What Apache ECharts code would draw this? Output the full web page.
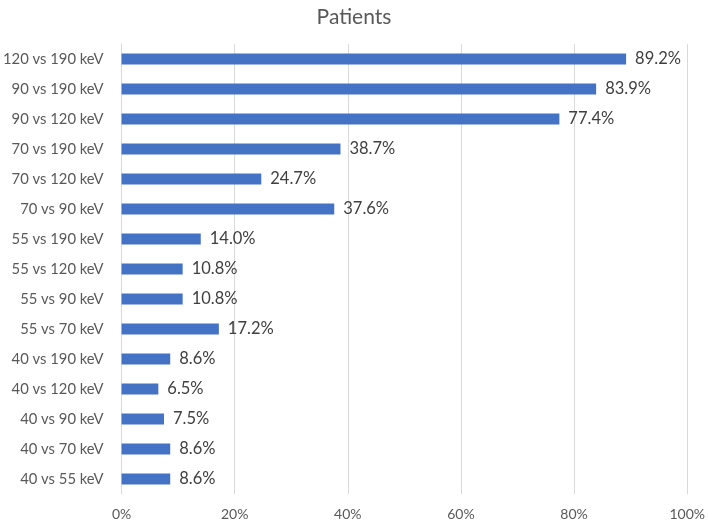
<!DOCTYPE html>
<html><head><meta charset="utf-8">
<script src="https://cdn.jsdelivr.net/npm/echarts@6/dist/echarts.min.js"></script>
<style>html,body{margin:0;padding:0;background:#fff}#c{width:708px;height:521px}</style>
</head><body><div id="c"></div>
<script>
const categories = ["120 vs 190 keV","90 vs 190 keV","90 vs 120 keV","70 vs 190 keV","70 vs 120 keV","70 vs 90 keV","55 vs 190 keV","55 vs 120 keV","55 vs 90 keV","55 vs 70 keV","40 vs 190 keV","40 vs 120 keV","40 vs 90 keV","40 vs 70 keV","40 vs 55 keV"];
const values = [89.2,83.9,77.4,38.7,24.7,37.6,14.0,10.8,10.8,17.2,8.6,6.5,7.5,8.6,8.6];
const chart = echarts.init(document.getElementById('c'));
const font = "Lato, 'Open Sans', sans-serif";
chart.setOption({
  animation:false,
  title:{text:'Patients',left:'center',top:2,textStyle:{fontFamily:font,fontSize:21,fontWeight:'normal',color:'#595959'}},
  grid:{left:119,right:17,top:44,bottom:27,containLabel:false},
  xAxis:{type:'value',min:0,max:100,interval:20,
    axisLabel:{formatter:'{value}%',fontFamily:font,fontSize:14,color:'#595959',margin:13},
    splitLine:{lineStyle:{color:'#d9d9d9'}},axisLine:{show:false},axisTick:{show:false}},
  yAxis:{type:'category',data:categories,inverse:true,
    axisLabel:{fontFamily:font,fontSize:14.8,color:'#595959',margin:18},
    axisLine:{lineStyle:{color:'#d9d9d9'}},axisTick:{show:false}},
  series:[{type:'bar',data:values,barWidth:11,itemStyle:{color:'#4472C4'},
    label:{show:true,position:'right',distance:9,formatter:p=>p.value.toFixed(1)+'%',fontFamily:font,fontSize:16.5,color:'#404040'}}]
});
</script></body></html>
